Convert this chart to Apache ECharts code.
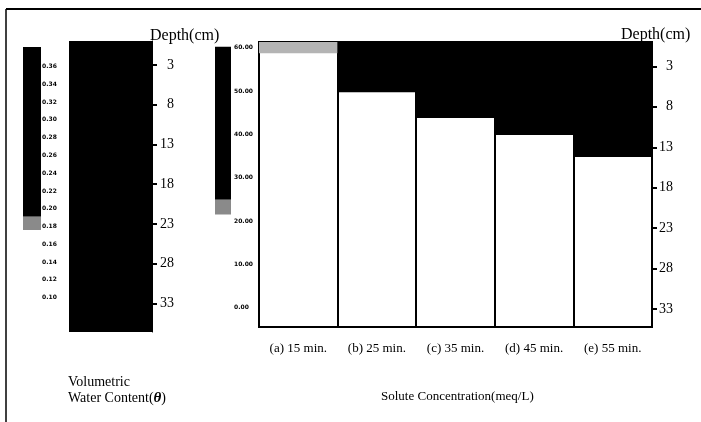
<!DOCTYPE html>
<html>
<head>
<meta charset="utf-8">
<script src="https://cdn.jsdelivr.net/npm/echarts@6/dist/echarts.min.js"></script>
<style>html,body{margin:0;padding:0;background:#fff;}#c{width:701px;height:422px;}</style>
</head>
<body>
<div id="c"></div>
<script>
// ---- data ----
const depthTicks = [3, 8, 13, 18, 23, 28, 33];
const thetaTicks = [0.10, 0.12, 0.14, 0.16, 0.18, 0.20, 0.22, 0.24, 0.26, 0.28, 0.30, 0.32, 0.34, 0.36];
const concTicks = [0, 10, 20, 30, 40, 50, 60];
const timeLabels = ['(a) 15 min.', '(b) 25 min.', '(c) 35 min.', '(d) 45 min.', '(e) 55 min.'];
const frontDepth = [1.4, 6.2, 9.4, 11.5, 14.2];      // depth (cm) of dark solute zone
const profileDepth = [36.6];                          // saturated water-content profile (cm)
const thetaBandSolid = [0.191, 0.382];
const thetaBandFade = [0.176, 0.191];
const concBandSolid = [24.9, 60.2];
const concBandFade = [21.5, 24.9];

const serif = 'Liberation Serif, Times New Roman, serif';
const chart = echarts.init(document.getElementById('c'), null, {renderer: 'canvas'});

const tinyLabel = {fontSize: 6, fontWeight: 'bold', color: '#000', fontFamily: 'DejaVu Sans'};
const depthLabel = {fontSize: 14, color: '#000', fontFamily: serif, align: 'right'};

chart.setOption({
  animation: false,
  backgroundColor: '#fff',
  grid: [
    {left: 23, top: 40, width: 18, height: 293},
    {left: 69, top: 41, width: 83, height: 291},
    {left: 215, top: 26, width: 16, height: 325},
    {left: 259, top: 42, width: 393, height: 285, show: true, borderColor: '#000', borderWidth: 2, backgroundColor: '#fff'}
  ],
  xAxis: [
    {gridIndex: 0, type: 'value', min: 0, max: 1, show: false},
    {gridIndex: 1, type: 'category', data: ['θ'], show: false},
    {gridIndex: 2, type: 'value', min: 0, max: 1, show: false},
    {gridIndex: 3, type: 'category', data: timeLabels,
      axisLine: {show: true, lineStyle: {color: '#000', width: 2}},
      axisTick: {show: false},
      splitLine: {show: true, lineStyle: {color: '#000', width: 2}},
      axisLabel: {color: '#000', fontSize: 13, fontFamily: serif, margin: 15}}
  ],
  yAxis: [
    {gridIndex: 0, type: 'value', min: 0.06, max: 0.39, position: 'right',
      axisLine: {show: false}, axisTick: {show: false}, splitLine: {show: false},
      axisLabel: Object.assign({margin: 1, customValues: thetaTicks, formatter: v => v.toFixed(2)}, tinyLabel)},
    {gridIndex: 1, type: 'value', min: 0, max: 36.6, inverse: true, position: 'right',
      axisLine: {show: true, lineStyle: {color: '#000'}},
      axisTick: {show: true, length: 5, customValues: depthTicks, lineStyle: {color: '#000', width: 2}},
      splitLine: {show: false},
      axisLabel: Object.assign({margin: 22, customValues: depthTicks}, depthLabel)},
    {gridIndex: 2, type: 'value', min: -10, max: 65, position: 'right',
      axisLine: {show: false}, axisTick: {show: false}, splitLine: {show: false},
      axisLabel: Object.assign({margin: 3, customValues: concTicks, formatter: v => v.toFixed(2)}, tinyLabel)},
    {gridIndex: 3, type: 'value', min: 0, max: 35.2, inverse: true, position: 'right',
      axisLine: {show: true, lineStyle: {color: '#000', width: 2}},
      axisTick: {show: true, length: 5, customValues: depthTicks, lineStyle: {color: '#000', width: 2}},
      splitLine: {show: false},
      axisLabel: Object.assign({margin: 21, customValues: depthTicks}, depthLabel)}
  ],
  series: [
    {type: 'line', xAxisIndex: 0, yAxisIndex: 0, data: [[0.5, 0.3]], showSymbol: false, lineStyle: {opacity: 0},
      markArea: {silent: true, data: [
        [{yAxis: thetaBandSolid[0], itemStyle: {color: '#000'}}, {yAxis: thetaBandSolid[1]}],
        [{yAxis: thetaBandFade[0], itemStyle: {color: '#8a8a8a'}}, {yAxis: thetaBandFade[1]}]
      ]}},
    {type: 'bar', xAxisIndex: 1, yAxisIndex: 1, data: profileDepth, barWidth: '100%',
      itemStyle: {color: '#000'}, silent: true},
    {type: 'line', xAxisIndex: 2, yAxisIndex: 2, data: [[0.5, 40]], showSymbol: false, lineStyle: {opacity: 0},
      markArea: {silent: true, data: [
        [{yAxis: concBandSolid[0], itemStyle: {color: '#000'}}, {yAxis: concBandSolid[1]}],
        [{yAxis: concBandFade[0], itemStyle: {color: '#8a8a8a'}}, {yAxis: concBandFade[1]}]
      ]}},
    {type: 'bar', xAxisIndex: 3, yAxisIndex: 3, barWidth: '100%', silent: true,
      data: frontDepth.map((v, i) => ({value: v, itemStyle: {color: i === 0 ? '#b4b4b4' : '#000'}}))}
  ],
  title: [
    {text: 'Depth(cm)', left: 150, top: 28, textStyle: {fontSize: 16, fontWeight: 'normal', color: '#000', fontFamily: serif}, padding: 0},
    {text: 'Depth(cm)', left: 621, top: 27, textStyle: {fontSize: 16, fontWeight: 'normal', color: '#000', fontFamily: serif}, padding: 0},
    {text: 'Volumetric\nWater Content({i|θ})', left: 68, top: 374, padding: 0,
      textStyle: {fontSize: 14, fontWeight: 'normal', color: '#000', fontFamily: serif, lineHeight: 16,
        rich: {i: {fontStyle: 'italic', fontSize: 15, fontFamily: serif, color: '#000', fontWeight: 'bold'}}}},
    {text: 'Solute Concentration(meq/L)', left: 381, top: 390, padding: 0,
      textStyle: {fontSize: 13, fontWeight: 'normal', color: '#000', fontFamily: serif}}
  ],
  graphic: [
    {type: 'line', shape: {x1: 6, y1: 9, x2: 701, y2: 9}, style: {stroke: '#000', lineWidth: 2}, silent: true},
    {type: 'line', shape: {x1: 6, y1: 9, x2: 6, y2: 422}, style: {stroke: '#000', lineWidth: 1.5}, silent: true}
  ]
});
</script>
</body>
</html>
